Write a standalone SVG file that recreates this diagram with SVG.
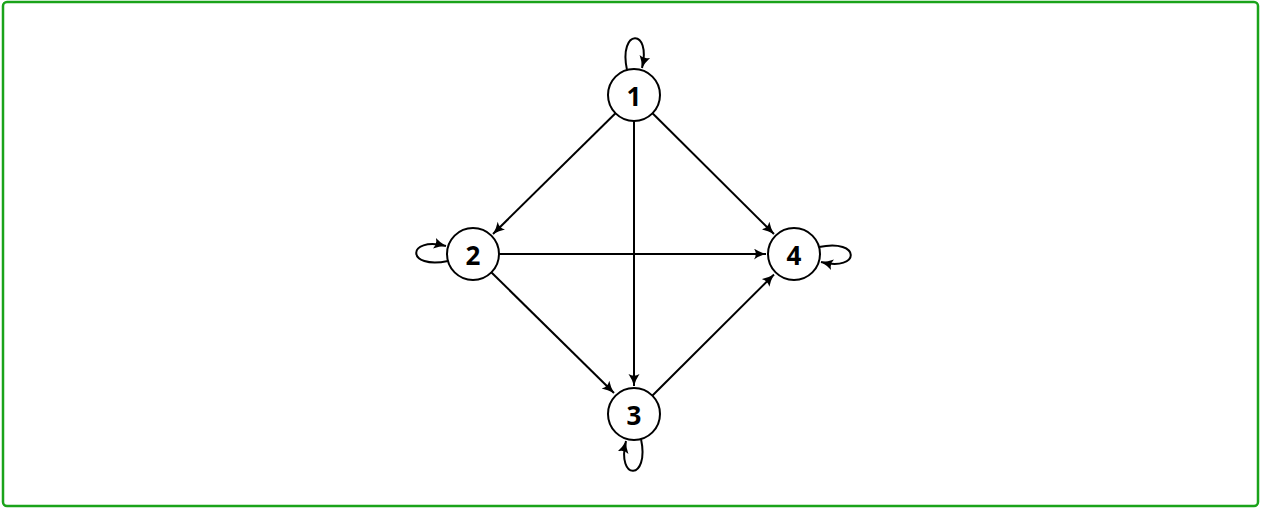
<svg xmlns="http://www.w3.org/2000/svg" width="1261" height="508" viewBox="0 0 1261 508">
<style>
.node circle{fill:#fff;stroke:#000;stroke-width:2}
.node text{font-family:"Noto Sans","DejaVu Sans",sans-serif;font-weight:bold;font-size:26px;fill:#000;text-anchor:middle;dominant-baseline:central}
.edge{fill:none;stroke:#000;stroke-width:2;marker-end:url(#arr)}
</style>
<defs>
<marker id="arr" markerUnits="userSpaceOnUse" markerWidth="14" markerHeight="12" refX="12" refY="5.5" orient="auto" viewBox="0 0 14 12">
<path d="M0,0 Q5,3.5 12,5.5 Q5,7.5 0,11 Q3.5,5.5 0,0 z" fill="#000"/>
</marker>
</defs>
<rect x="3" y="2" width="1255" height="504" rx="4" ry="4" fill="#fff" stroke="#1aa31a" stroke-width="2.5"/>
<g id="connectors">
<path class="edge" d="M615.5,113.3 L493,234"/>
<path class="edge" d="M634,121 L634,386"/>
<path class="edge" d="M652.5,113.3 L774,234"/>
<path class="edge" d="M499,254 L766,254"/>
<path class="edge" d="M491.5,272.5 L614,393"/>
<path class="edge" d="M652.5,395.5 L774,274.5"/>
<path class="edge" d="M627,70 C618,28 652,28 642,68"/>
<path class="edge" d="M448,261 C406,270 406,236 446,246"/>
<path class="edge" d="M641,439 C650,481 616,481 626,441"/>
<path class="edge" d="M819,247 C861,238 861,272 821,262"/>
</g>
<g id="node1" class="node"><circle cx="634" cy="95" r="26"/><text x="634" y="96">1</text></g>
<g id="node2" class="node"><circle cx="473" cy="254" r="26"/><text x="473" y="255">2</text></g>
<g id="node3" class="node"><circle cx="634" cy="414" r="26"/><text x="634" y="415">3</text></g>
<g id="node4" class="node"><circle cx="794" cy="254" r="26"/><text x="794" y="255">4</text></g>
</svg>
